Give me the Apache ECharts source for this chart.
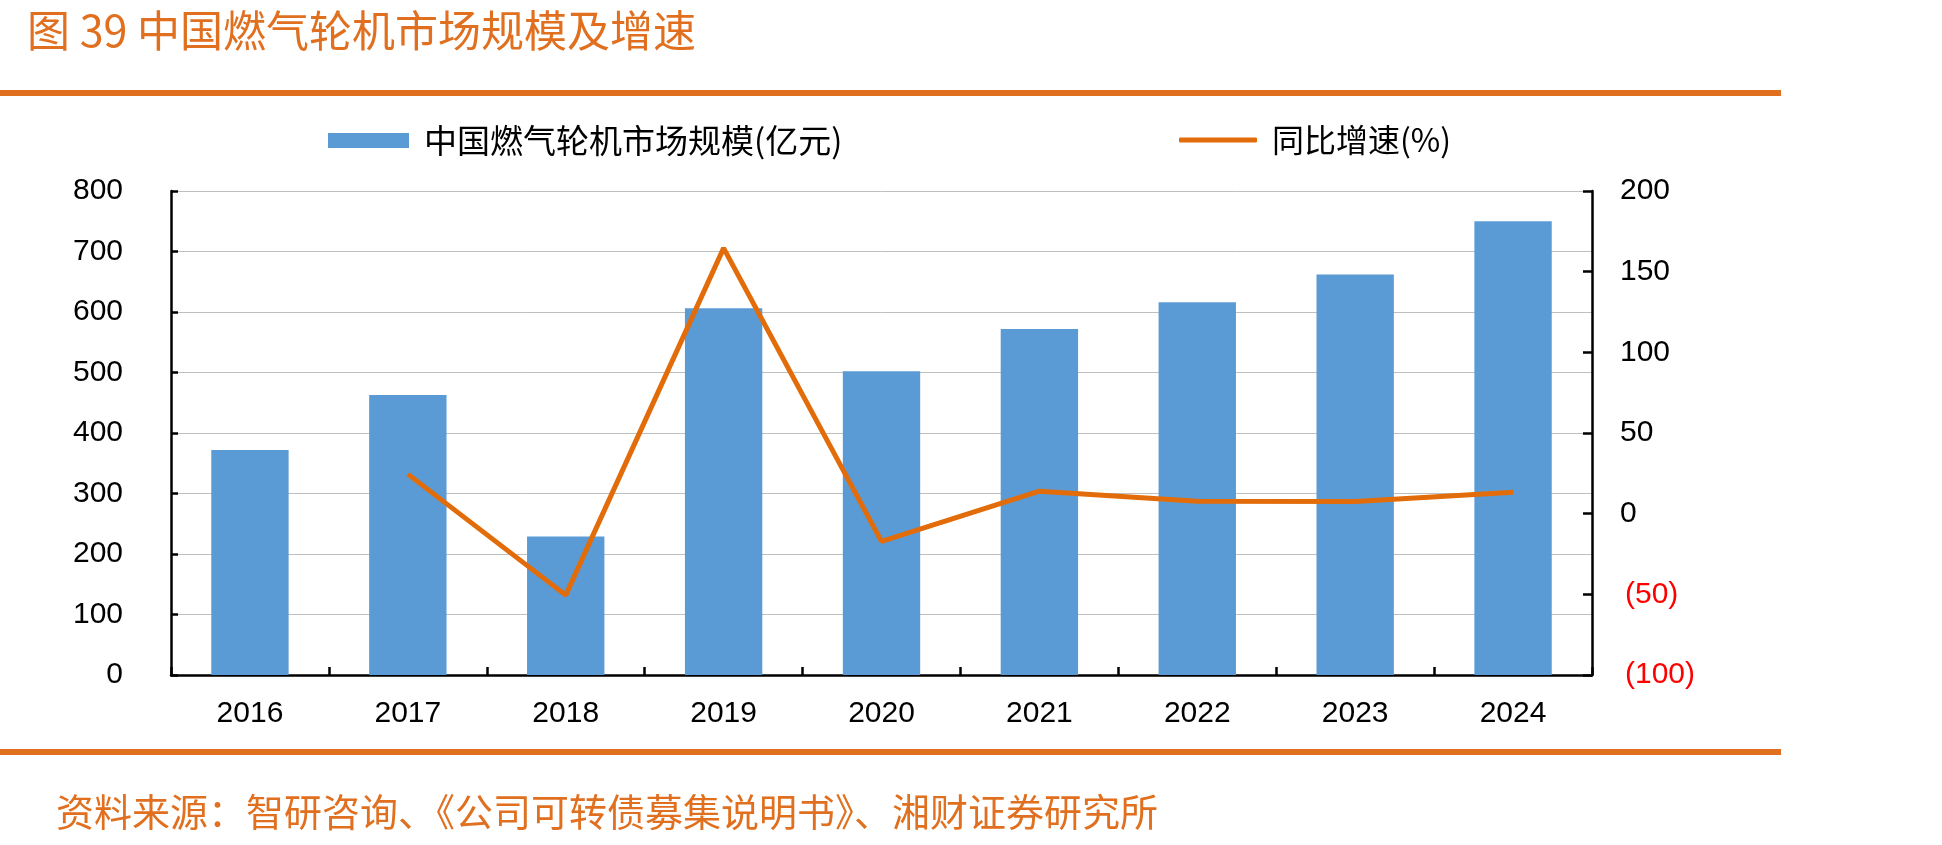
<!DOCTYPE html>
<html>
<head>
<meta charset="utf-8">
<script src="https://cdn.jsdelivr.net/npm/echarts@6/dist/echarts.min.js"></script>
<style>
  html, body { margin: 0; padding: 0; background: #ffffff; }
  #main { width: 1942px; height: 845px; }
</style>
</head>
<body>
<div id="main"></div>
<script>
// 数据
const years = ['2016', '2017', '2018', '2019', '2020', '2021', '2022', '2023', '2024'];
const marketSize = [372, 463, 229, 606, 502, 572, 616, 662, 750];   // 亿元
const growthRate = [null, 24.5, -50.5, 164.6, -17.2, 13.9, 7.7, 7.5, 13.3]; // %

const ORANGE = '#E0701F';
const CJK = '"Noto Sans CJK SC", sans-serif';
const NUM = '"Liberation Sans", Arial, sans-serif';

const chart = echarts.init(document.getElementById('main'));

const option = {
  backgroundColor: '#ffffff',
  animation: false,
  graphic: [
    {
      type: 'text', left: 27, top: 9,
      style: { text: '图 39 中国燃气轮机市场规模及增速', fill: ORANGE, font: '43px ' + CJK }
    },
    {
      type: 'rect', shape: { x: 0, y: 90, width: 1781, height: 6 },
      style: { fill: ORANGE }
    },
    {
      type: 'rect', shape: { x: 0, y: 749, width: 1781, height: 6 },
      style: { fill: ORANGE }
    },
    {
      type: 'text', left: 56, top: 793,
      style: { text: '资料来源：智研咨询、《公司可转债募集说明书》、湘财证券研究所', fill: ORANGE, font: '38px ' + CJK }
    }
  ],
  legend: [
    {
      data: ['中国燃气轮机市场规模(亿元)'],
      left: 328, top: 124, padding: 0,
      itemWidth: 81, itemHeight: 15,
      icon: 'rect',
      textStyle: { color: '#000', fontSize: 33, fontFamily: CJK, padding: [0, 0, 0, 10] }
    },
    {
      data: ['同比增速(%)'],
      left: 1179, top: 124, padding: 0,
      itemWidth: 78, itemHeight: 5,
      icon: 'roundRect',
      textStyle: { color: '#000', fontSize: 32, fontFamily: CJK, padding: [0, 0, 0, 10] }
    }
  ],
  grid: { left: 171, right: 350, top: 191, bottom: 170, containLabel: false },
  xAxis: {
    type: 'category',
    data: years,
    axisLine: { lineStyle: { color: '#000', width: 2.5 } },
    axisTick: { show: true, inside: true, length: 8, lineStyle: { color: '#000', width: 2.5 } },
    axisLabel: { color: '#000', fontSize: 30, fontFamily: NUM, margin: 24 }
  },
  yAxis: [
    {
      type: 'value', min: 0, max: 800, interval: 100,
      axisLine: { show: true, lineStyle: { color: '#000', width: 2.5 } },
      axisTick: { show: true, inside: true, length: 7, lineStyle: { color: '#000', width: 2.5 } },
      axisLabel: { color: '#000', fontSize: 30, fontFamily: NUM, margin: 48 },
      splitLine: { show: true, lineStyle: { color: '#BFBFBF', width: 1 } }
    },
    {
      type: 'value', min: -100, max: 200, interval: 50,
      position: 'right',
      axisLine: { show: true, lineStyle: { color: '#000', width: 2.5 } },
      axisTick: { show: true, inside: true, length: 9, lineStyle: { color: '#000', width: 2.5 } },
      axisLabel: {
        fontSize: 30, fontFamily: NUM, margin: 28,
        formatter: function (v) { return v < 0 ? '{neg|(' + Math.abs(v) + ')}' : '{pos|' + v + '}'; },
        rich: {
          pos: { color: '#000', fontSize: 30, fontFamily: NUM },
          neg: { color: '#FF0000', fontSize: 30, fontFamily: NUM, padding: [0, 0, 0, 5] }
        }
      },
      splitLine: { show: false }
    }
  ],
  series: [
    {
      name: '中国燃气轮机市场规模(亿元)',
      type: 'bar',
      data: marketSize,
      barWidth: '49%',
      itemStyle: { color: '#5B9BD5' }
    },
    {
      name: '同比增速(%)',
      type: 'line',
      yAxisIndex: 1,
      data: growthRate,
      symbol: 'none',
      showSymbol: false,
      lineStyle: { color: '#E36C0A', width: 5 },
      itemStyle: { color: '#E36C0A' }
    }
  ]
};

chart.setOption(option);
</script>
</body>
</html>
